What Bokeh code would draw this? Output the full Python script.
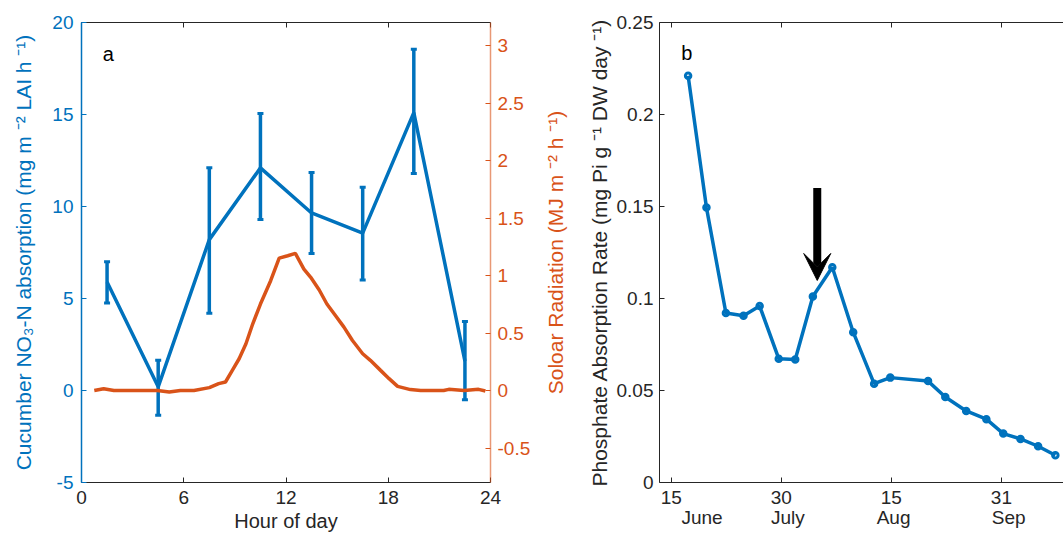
from bokeh.plotting import figure
from bokeh.models import (LinearAxis, Range1d, FixedTicker, Whisker, TeeHead,
                          ColumnDataSource, Arrow, VeeHead, Label)
from bokeh.layouts import row
from bokeh.embed import file_html
from bokeh.resources import INLINE

# ---------------- panel a data ----------------
hours = [1.5, 4.5, 7.5, 10.5, 13.5, 16.5, 19.5, 22.5]
no3_mean = [5.9, 0.2, 8.2, 12.1, 9.65, 8.55, 15.1, 1.6]
no3_upper = [7.0, 1.65, 12.1, 15.05, 11.85, 11.05, 18.55, 3.75]
no3_lower = [4.75, -1.35, 4.2, 9.3, 7.45, 6.0, 11.8, -0.5]

rad_hour = [0.75, 1.3, 1.9, 4.45, 5.15, 5.8, 6.6, 7.5, 8.05, 8.45, 8.85, 9.25,
            9.65, 10.05, 10.5, 11.1, 11.6, 12.1, 12.55, 13.05, 13.45, 13.95,
            14.4, 14.9, 15.4, 15.9, 16.5, 16.95, 17.55, 18.05, 18.55, 19.3,
            19.9, 21.25, 21.55, 22.45, 23.3, 23.7]
rad_value = [0.0, 0.016, 0.0, 0.0, -0.013, 0.0, 0.0, 0.025, 0.06, 0.074, 0.175,
             0.276, 0.406, 0.58, 0.752, 0.955, 1.151, 1.172, 1.192, 1.056,
             0.984, 0.874, 0.752, 0.652, 0.551, 0.435, 0.32, 0.262, 0.175,
             0.103, 0.036, 0.008, 0.0, 0.0, 0.01, 0.0, 0.01, -0.004]

a_x_ticks = [0, 6, 12, 18, 24]
a_y_ticks = [-5, 0, 5, 10, 15, 20]
rad_ticks = [-0.5, 0, 0.5, 1, 1.5, 2, 2.5, 3]
rad_tick_labels = ["-0.5", "0", "0.5", "1", "1.5", "2", "2.5", "3"]
rad_title = "Soloar Radiation (MJ m \u207b\u00b2 h \u207b\u00b9)"

# ---------------- panel b data ----------------
days = [2.3, 4.8, 7.45, 9.85, 12.05, 14.65, 16.9, 19.3, 21.95, 24.8, 27.65,
        29.85, 35.0, 37.35, 40.2, 42.95, 45.25, 47.6, 50.0, 52.35]
phosphate = [0.221, 0.1494, 0.0921, 0.0906, 0.0959, 0.0673, 0.0668, 0.1011,
             0.117, 0.0817, 0.0537, 0.057, 0.0551, 0.0465, 0.0389, 0.0344,
             0.0266, 0.0237, 0.0197, 0.0148]
b_x_ticks = [0, 15, 30, 45]
b_x_tick_labels = ["15", "30", "15", "31"]
month_pos = [4.2, 15.9, 30.3, 46.0]
month_labels = ["June", "July", "Aug", "Sep"]
b_y_ticks = [0, 0.05, 0.1, 0.15, 0.2, 0.25]
b_y_tick_labels = ["0", "0.05", "0.1", "0.15", "0.2", "0.25"]
arrow_day = 19.9
arrow_top = 0.160
arrow_tip = 0.1098

BLUE = "#0072BD"
ORANGE = "#D95319"
DARK = "#262626"
FONT = "Liberation Sans"
TICK_FS = "19px"
XLABEL_FS = "20px"
YLABEL_FS = "21px"


def style_axis(ax, line_color, text_color, ticks=None, labels=None):
    ax.axis_line_color = line_color
    ax.axis_line_width = 1
    ax.major_tick_line_color = line_color
    ax.minor_tick_line_color = None
    ax.major_tick_in = 5
    ax.major_tick_out = 0
    ax.major_label_text_color = text_color
    ax.major_label_text_font = FONT
    ax.major_label_text_font_size = TICK_FS
    ax.axis_label_text_font = FONT
    ax.axis_label_text_font_size = YLABEL_FS
    ax.axis_label_text_font_style = "normal"
    ax.axis_label_text_color = text_color
    if ticks is not None:
        ax.ticker = FixedTicker(ticks=ticks)
    if labels is not None:
        ax.major_label_overrides = {t: l for t, l in zip(ticks, labels)}


def top_border(p, ticks):
    ax = LinearAxis(ticker=FixedTicker(ticks=ticks))
    ax.axis_line_color = DARK
    ax.major_tick_line_color = DARK
    ax.minor_tick_line_color = None
    ax.major_tick_in = 5
    ax.major_tick_out = 0
    ax.major_label_overrides = {t: "" for t in ticks}
    ax.major_label_standoff = 0
    p.add_layout(ax, "above")


# ---------------- panel a ----------------
p1 = figure(width=540, height=538, x_range=Range1d(0, 24), y_range=Range1d(-5, 20),
            output_backend="svg", toolbar_location=None,
            min_border_left=81, min_border_right=50, min_border_top=22,
            min_border_bottom=56)
p1.grid.visible = False
p1.outline_line_color = None
p1.background_fill_color = "white"
p1.border_fill_color = "white"

style_axis(p1.xaxis[0], DARK, DARK, a_x_ticks, [str(t) for t in a_x_ticks])
p1.xaxis[0].axis_label = "Hour of day"
p1.xaxis[0].axis_label_text_font_size = XLABEL_FS
p1.xaxis[0].major_label_standoff = 8
p1.xaxis[0].axis_label_standoff = 3

style_axis(p1.yaxis[0], BLUE, BLUE, a_y_ticks, [str(t) for t in a_y_ticks])
p1.yaxis[0].axis_line_width = 1.5
p1.yaxis[0].axis_label = "Cucumber NO\u2083-N absorption (mg m \u207b\u00b2 LAI h \u207b\u00b9)"
p1.yaxis[0].major_label_standoff = 8
p1.yaxis[0].axis_label_standoff = 14

p1.extra_y_ranges = {"rad": Range1d(-0.8, 3.2)}
rax = LinearAxis(y_range_name="rad")
style_axis(rax, ORANGE, ORANGE, rad_ticks, rad_tick_labels)
rax.axis_line_alpha = 0.6
rax.axis_line_width = 1.5
rax.major_label_standoff = 7
p1.add_layout(rax, "right")
top_border(p1, a_x_ticks)

p1.line(rad_hour, rad_value, y_range_name="rad", line_color=ORANGE, line_width=3.5)
src_a = ColumnDataSource(dict(h=hours, m=no3_mean, up=no3_upper, lo=no3_lower))
p1.line("h", "m", source=src_a, line_color=BLUE, line_width=3.5)
p1.add_layout(Whisker(source=src_a, base="h", upper="up", lower="lo",
                      dimension="height", line_color=BLUE, line_width=3.5,
                      upper_head=TeeHead(size=6, line_color=BLUE, line_width=3),
                      lower_head=TeeHead(size=6, line_color=BLUE, line_width=3)))
p1.add_layout(Label(x=1.25, y=18.3, text="a", text_font=FONT, text_font_size="20px",
                    text_color="black", text_baseline="alphabetic"))

# ---------------- panel b ----------------
p2 = figure(width=523, height=538, x_range=Range1d(-1.6, 53.46), y_range=Range1d(0, 0.25),
            output_backend="svg", toolbar_location=None,
            min_border_left=119, min_border_right=0, min_border_top=22,
            min_border_bottom=56)
p2.grid.visible = False
p2.outline_line_color = None
p2.background_fill_color = "white"
p2.border_fill_color = "white"

style_axis(p2.xaxis[0], DARK, DARK, b_x_ticks, b_x_tick_labels)
p2.xaxis[0].major_label_standoff = 8
style_axis(p2.yaxis[0], DARK, DARK, b_y_ticks, b_y_tick_labels)
p2.yaxis[0].axis_label = "Phosphate Absorption Rate (mg Pi g \u207b\u00b9 DW day \u207b\u00b9)"
p2.yaxis[0].major_label_standoff = 6
p2.yaxis[0].axis_label_standoff = 3

# title of panel a's radiation axis (drawn in the gap between the panels,
# reading bottom-to-top as in the reference)
p2.extra_y_ranges = {"rad": Range1d(-0.8, 3.2)}
rad_title_axis = LinearAxis(y_range_name="rad", ticker=FixedTicker(ticks=[]))
style_axis(rad_title_axis, None, ORANGE)
rad_title_axis.major_tick_in = 0
rad_title_axis.major_tick_line_color = None
rad_title_axis.major_label_standoff = 0
rad_title_axis.axis_label = rad_title
rad_title_axis.axis_label_standoff = 18
p2.add_layout(rad_title_axis, "left")

max_ = LinearAxis()
style_axis(max_, None, DARK, month_pos, month_labels)
max_.major_tick_in = 0
max_.major_tick_line_color = None
max_.major_label_standoff = 0
p2.add_layout(max_, "below")
top_border(p2, b_x_ticks)

p2.line(days, phosphate, line_color=BLUE, line_width=3.5)
p2.scatter(days, phosphate, size=5.5, line_width=3, line_color=BLUE, fill_color=None)
p2.add_layout(Arrow(end=VeeHead(size=27, fill_color="black", line_color="black"),
                    x_start=arrow_day, y_start=arrow_top, x_end=arrow_day, y_end=arrow_tip,
                    line_width=8, line_color="black"))
p2.add_layout(Label(x=1.36, y=0.2332, text="b", text_font=FONT, text_font_size="20px",
                    text_color="black", text_baseline="alphabetic"))

layout = row(p1, p2)
open("out.html", "w").write(file_html(layout, INLINE))
